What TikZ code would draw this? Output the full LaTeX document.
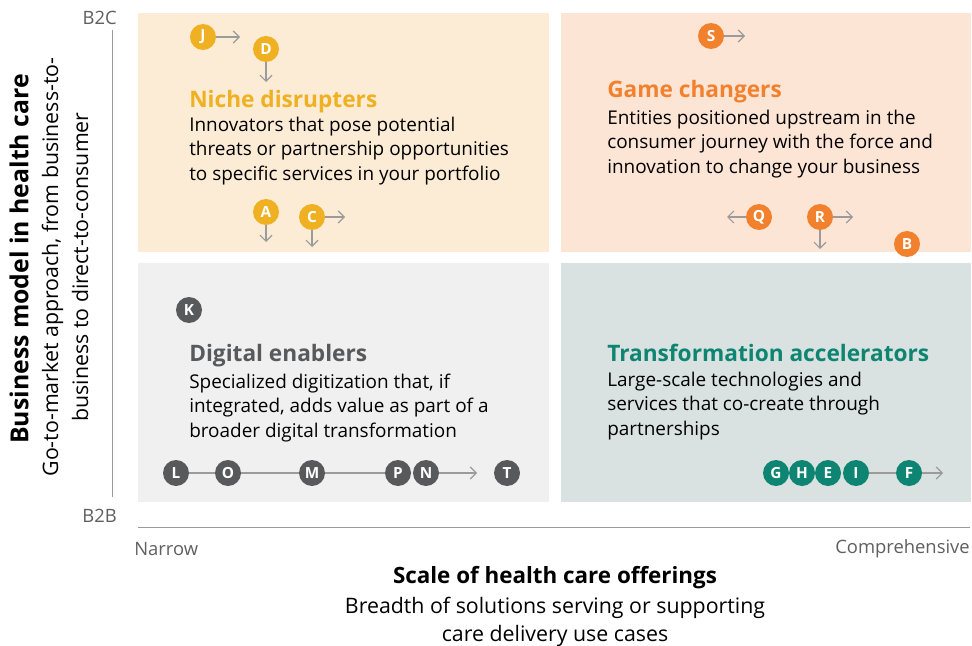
\documentclass[tikz,border=0pt]{standalone}
\usepackage{fontspec}
\setmainfont{Open Sans}
\usetikzlibrary{arrows.meta}

\definecolor{nicheC}{HTML}{EFB121}
\definecolor{gameC}{HTML}{F2812E}
\definecolor{digiC}{HTML}{58595B}
\definecolor{transC}{HTML}{0E8572}
\definecolor{nicheBg}{HTML}{FCEBD5}
\definecolor{gameBg}{HTML}{FDE5D6}
\definecolor{digiBg}{HTML}{F0F0F0}
\definecolor{transBg}{HTML}{D9E2E0}
\definecolor{lineG}{HTML}{9B9B9B}
\definecolor{axisG}{HTML}{5F5F5F}

\begin{document}
\begin{tikzpicture}[x=0.75pt, y=0.75pt,
    every node/.style={inner sep=0pt},
    dot/.style={circle, minimum size=19.5pt, text=white, font=\bfseries\fontsize{11.5}{11.5}\selectfont},
    nd/.style={dot, fill=nicheC},
    gc/.style={dot, fill=gameC},
    de/.style={dot, fill=digiC},
    ta/.style={dot, fill=transC},
    arr/.style={draw=lineG, line width=0.9pt, -{Straight Barb[length=4.5pt,width=9pt]}},
    link/.style={draw=lineG, line width=0.9pt},
    head/.style={anchor=base west, font=\bfseries\fontsize{17}{19}\selectfont},
    body/.style={anchor=base west, align=left, text=black, font=\fontsize{14.2}{18.3}\selectfont},
    tick/.style={text=axisG, font=\fontsize{13.8}{15}\selectfont}]

\useasboundingbox (0,0) rectangle (972,-646);

% quadrants
\fill[nicheBg] (138,-13) rectangle (549,-252);
\fill[gameBg] (561,-13) rectangle (971,-252);
\fill[digiBg] (138,-263) rectangle (549,-502);
\fill[transBg] (561,-263) rectangle (971,-502);

% axes
\draw[lineG, line width=0.6pt] (112,-30) -- (112,-497);
\draw[lineG, line width=0.6pt] (138,-527) -- (970,-527);
\node[tick, anchor=east] (b2c) at (117,-18) {B2C};
\node[tick, anchor=east] (b2b) at (117,-516) {B2B};
\node[tick, anchor=west] (narrow) at (134,-549) {Narrow};
\node[tick, anchor=east] (compr) at (970,-549) {Comprehensive};

\node[rotate=90, font=\bfseries\fontsize{18.6}{21}\selectfont] (ytitle) at (19,-259) {Business model in health care};
\node[rotate=90, align=center, font=\fontsize{16}{22.5}\selectfont] (ysub) at (65,-267)
  {Go-to-market approach, from business-to-\\business to direct-to-consumer};
\node[font=\bfseries\fontsize{16.8}{20}\selectfont, anchor=base] (xtitle) at (555,-583) {Scale of health care offerings};
\node[align=center, font=\fontsize{16}{21}\selectfont, anchor=base] (xsub) at (555,-641)
  {Breadth of solutions serving or supporting\\care delivery use cases};

% niche disrupters
\node[head, text=nicheC] (nicheT) at (189,-107) {Niche disrupters};
\node[body] (nicheB) at (189,-180) {Innovators that pose potential\\threats or partnership opportunities\\to specific services in your portfolio};
\node[nd] (J) at (203,-37) {J};
\node[nd] (D) at (266,-49) {D};
\node[nd] (A) at (266,-212) {A};
\node[nd] (C) at (312,-217) {C};
\coordinate (Jr) at (240,-37);
\coordinate (Dd) at (266,-82);
\coordinate (Ad) at (266,-242);
\coordinate (Cr) at (345,-217);
\coordinate (Cd) at (312,-247);
\draw[arr] (J) -- (Jr);
\draw[arr] (D) -- (Dd);
\draw[arr] (A) -- (Ad);
\draw[arr] (C) -- (Cr);
\draw[arr] (C) -- (Cd);

% game changers
\node[head, text=gameC] (gameT) at (607,-97) {Game changers};
\node[body] (gameB) at (607,-173) {Entities positioned upstream in the\\consumer journey with the force and\\innovation to change your business};
\node[gc] (S) at (711,-36) {S};
\node[gc] (Q) at (759,-217) {Q};
\node[gc] (R) at (820,-217) {R};
\node[gc] (B) at (907,-244) {B};
\coordinate (Sr) at (745,-36);
\coordinate (Ql) at (727,-217);
\coordinate (Rr) at (853,-217);
\coordinate (Rd) at (820,-249);
\draw[arr] (S) -- (Sr);
\draw[arr] (Q) -- (Ql);
\draw[arr] (R) -- (Rr);
\draw[arr] (R) -- (Rd);

% digital enablers
\node[head, text=digiC] (digiT) at (189,-361) {Digital enablers};
\node[body] (digiB) at (189,-437) {Specialized digitization that, if\\integrated, adds value as part of a\\broader digital transformation};
\node[de] (K) at (189,-310) {K};
\node[de] (L) at (176,-473) {L};
\node[de] (O) at (228,-473) {O};
\node[de] (M) at (312,-473) {M};
\node[de] (P) at (398,-473) {P};
\node[de] (N) at (426,-473) {N};
\node[de] (T) at (507,-473) {T};
\coordinate (Nr) at (477,-473);
\draw[link] (L) -- (O) -- (M) -- (P);
\draw[arr] (N) -- (Nr);

% transformation accelerators
\node[head, text=transC] (transT) at (607,-361) {Transformation accelerators};
\node[body] (transB) at (607,-435) {Large-scale technologies and\\services that co-create through\\partnerships};
\node[ta] (G) at (776,-473) {G};
\node[ta] (H) at (802,-473) {H};
\node[ta] (E) at (828,-473) {E};
\node[ta] (I) at (856,-473) {I};
\node[ta] (F) at (909,-473) {F};
\coordinate (Fr) at (943,-473);
\draw[link] (I) -- (F);
\draw[arr] (F) -- (Fr);
\end{tikzpicture}
\end{document}
